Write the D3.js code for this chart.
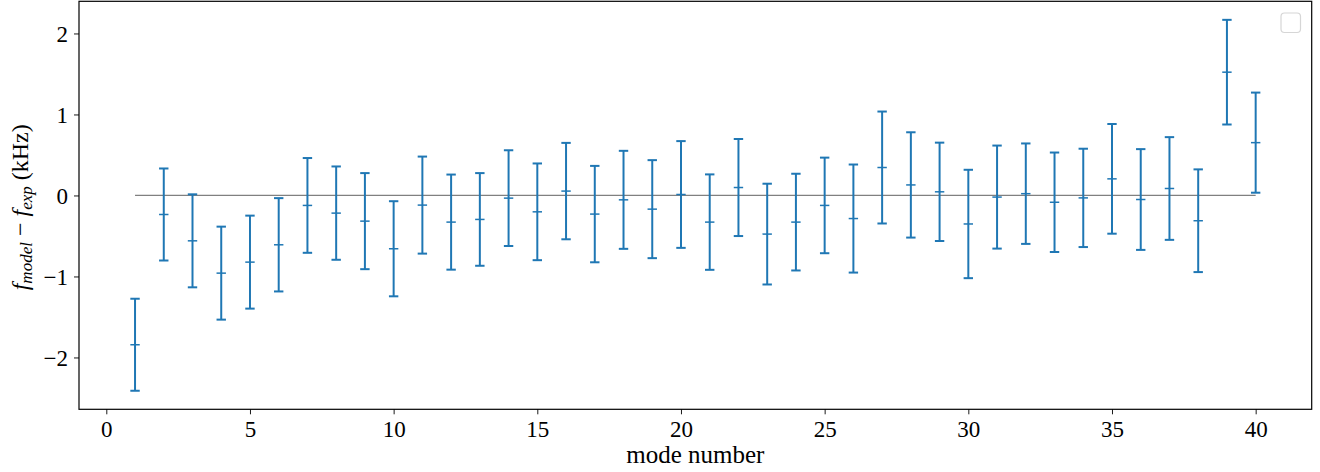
<!DOCTYPE html>
<html>
<head>
<meta charset="utf-8">
<script src="https://cdn.jsdelivr.net/npm/d3@7"></script>
<style>
  html, body { margin: 0; padding: 0; background: #fff; }
  svg { display: block; }
  text { font-family: "Liberation Serif", "DejaVu Serif", serif; fill: #000; }
</style>
</head>
<body>
<svg id="chart" width="1320" height="472"></svg>
<script>
// Residuals between model and measured mode frequencies, with 1-sigma errors (kHz)
const modeNumbers = [1, 2, 3, 4, 5, 6, 7, 8, 9, 10,
                     11, 12, 13, 14, 15, 16, 17, 18, 19, 20,
                     21, 22, 23, 24, 25, 26, 27, 28, 29, 30,
                     31, 32, 33, 34, 35, 36, 37, 38, 39, 40];
const residuals = [-1.843, -0.235, -0.560, -0.959, -0.823, -0.609, -0.123, -0.218, -0.317, -0.658,
                   -0.119, -0.329, -0.296, -0.033, -0.202, 0.054, -0.230, -0.054, -0.169, 0.012,
                   -0.329, 0.098, -0.477, -0.329, -0.123, -0.285, 0.345, 0.130, 0.045, -0.352,
                   -0.020, 0.022, -0.084, -0.030, 0.205, -0.050, 0.086, -0.312, 1.522, 0.652];
const errors = [0.568, 0.568, 0.574, 0.574, 0.574, 0.576, 0.585, 0.576, 0.593, 0.587,
                0.599, 0.587, 0.572, 0.591, 0.597, 0.595, 0.595, 0.605, 0.605, 0.659,
                0.589, 0.599, 0.622, 0.597, 0.590, 0.667, 0.691, 0.650, 0.607, 0.669,
                0.636, 0.620, 0.614, 0.607, 0.677, 0.622, 0.634, 0.634, 0.646, 0.618];
const xTicks = [0, 5, 10, 15, 20, 25, 30, 35, 40];
const yTicks = [-2, -1, 0, 1, 2];

const svg = d3.select("#chart");
const W = 1320, H = 472;
const margin = { left: 79, right: 8.3, top: 1.3, bottom: 62.7 };
const blue = "#1f77b4";

const points = modeNumbers.map((m, i) => ({ m, v: residuals[i], e: errors[i] }));

// axis limits with 5% padding around the data extent
const xExt = d3.extent(modeNumbers);
const xPad = (xExt[1] - xExt[0]) * 0.05;
const yLo = d3.min(points, d => d.v - d.e), yHi = d3.max(points, d => d.v + d.e);
const yPad = (yHi - yLo) * 0.05;

const x = d3.scaleLinear().domain([xExt[0] - xPad, xExt[1] + xPad]).range([margin.left, W - margin.right]);
const y = d3.scaleLinear().domain([yLo - yPad, yHi + yPad]).range([H - margin.bottom, margin.top]);

// zero reference line
svg.append("line")
  .attr("x1", x(xExt[0])).attr("x2", x(xExt[1]))
  .attr("y1", y(0)).attr("y2", y(0))
  .attr("stroke", "#808080").attr("stroke-width", 1.3);

// error bars
const capW = 4.7;
const g = svg.append("g").attr("stroke", blue);
const bars = g.selectAll("g.bar").data(points).join("g").attr("class", "bar");
bars.append("line")
  .attr("x1", d => x(d.m)).attr("x2", d => x(d.m))
  .attr("y1", d => y(d.v + d.e)).attr("y2", d => y(d.v - d.e))
  .attr("stroke-width", 2);
bars.append("line")
  .attr("x1", d => x(d.m) - capW).attr("x2", d => x(d.m) + capW)
  .attr("y1", d => y(d.v + d.e)).attr("y2", d => y(d.v + d.e))
  .attr("stroke-width", 2);
bars.append("line")
  .attr("x1", d => x(d.m) - capW).attr("x2", d => x(d.m) + capW)
  .attr("y1", d => y(d.v - d.e)).attr("y2", d => y(d.v - d.e))
  .attr("stroke-width", 2);
bars.append("line")
  .attr("x1", d => x(d.m) - capW).attr("x2", d => x(d.m) + capW)
  .attr("y1", d => y(d.v)).attr("y2", d => y(d.v))
  .attr("stroke-width", 1.5);

// axes
const fmt = d => (d < 0 ? "\u2212" + Math.abs(d) : String(d));
const xAxis = svg.append("g")
  .attr("transform", `translate(0,${H - margin.bottom})`)
  .call(d3.axisBottom(x).tickValues(xTicks).tickFormat(fmt).tickSizeOuter(0).tickSize(5).tickPadding(6));
const yAxis = svg.append("g")
  .attr("transform", `translate(${margin.left},0)`)
  .call(d3.axisLeft(y).tickValues(yTicks).tickFormat(fmt).tickSizeOuter(0).tickSize(5).tickPadding(6));
[xAxis, yAxis].forEach(a => {
  a.select(".domain").remove();
  a.selectAll(".tick line").attr("stroke", "#000").attr("stroke-width", 0.9);
  a.selectAll(".tick text").attr("font-size", 23).attr("font-family", "Liberation Serif, serif").attr("fill", "#000");
});
yAxis.selectAll(".tick text").attr("dy", "0.34em");

// frame
svg.append("rect")
  .attr("x", margin.left).attr("y", margin.top)
  .attr("width", W - margin.left - margin.right).attr("height", H - margin.top - margin.bottom)
  .attr("fill", "none").attr("stroke", "#000").attr("stroke-width", 1.2);

// empty legend box
svg.append("rect")
  .attr("x", 1281).attr("y", 13).attr("width", 19.5).attr("height", 19.5)
  .attr("rx", 3.5).attr("fill", "#fff").attr("stroke", "#d6d6d6").attr("stroke-width", 1.2);

// axis titles
svg.append("text")
  .attr("x", (margin.left + W - margin.right) / 2).attr("y", 463)
  .attr("text-anchor", "middle").attr("font-size", 25)
  .text("mode number");

const yl = svg.append("text")
  .attr("transform", `translate(28,${(margin.top + H - margin.bottom) / 2 + 2}) rotate(-90)`)
  .attr("text-anchor", "middle").attr("font-size", 24);
yl.append("tspan").attr("font-style", "italic").text("f");
yl.append("tspan").attr("font-style", "italic").attr("font-size", 17).attr("dy", 4).text("model");
yl.append("tspan").attr("dy", -4).text(" \u2212 ");
yl.append("tspan").attr("font-style", "italic").text("f");
yl.append("tspan").attr("font-style", "italic").attr("font-size", 17).attr("dy", 4).text("exp");
yl.append("tspan").attr("dy", -4).text(" (kHz)");
</script>
</body>
</html>
